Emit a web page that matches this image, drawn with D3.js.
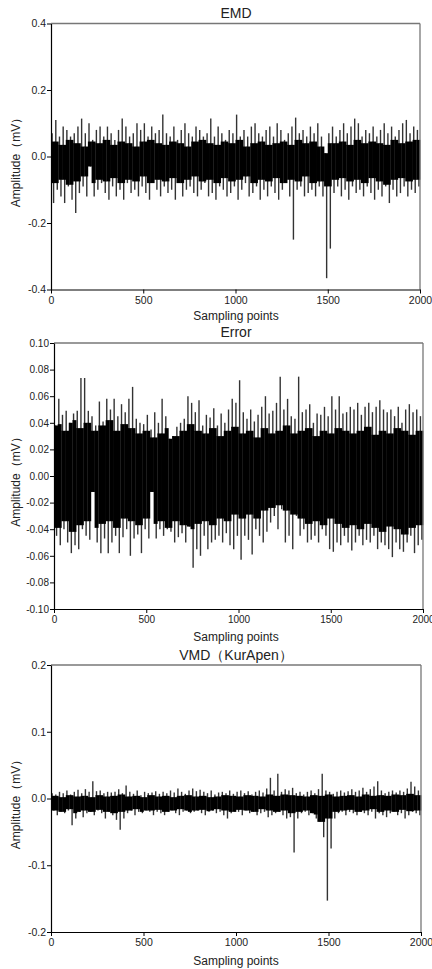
<!DOCTYPE html>
<html><head><meta charset="utf-8">
<script src="https://cdn.jsdelivr.net/npm/d3@7"></script>
<style>
body{margin:0;background:#fff}
svg{display:block}
text{font-family:Arial,"Liberation Sans",sans-serif;fill:#222}
</style>
</head><body>
<svg id="c" width="432" height="969"></svg>
<script>
// ---- data ----
// peaks/troughs: local max / min in each 20-sample bin
// coreHi/coreLo: edges of the dense black band in each 40-sample segment
const xTicks = [0, 500, 1000, 1500, 2000];
const emdTicks = [-0.4, -0.2, 0.0, 0.2, 0.4];
const errTicks = [-0.10, -0.08, -0.06, -0.04, -0.02, 0.00, 0.02, 0.04, 0.06, 0.08, 0.10];
const vmdTicks = [-0.2, -0.1, 0.0, 0.1, 0.2];
const titles = ["EMD", "Error", "VMD（KurApen）"];

const emdPeaks = [
 0.07,0.11,0.06,0.09,0.08,0.06,0.07,0.09,0.114,0.07,
 0.10,0.05,0.08,0.09,0.06,0.09,0.07,0.05,0.08,0.114,
 0.09,0.06,0.07,0.10,0.08,0.10,0.06,0.09,0.07,0.08,
 0.126,0.07,0.06,0.09,0.05,0.08,0.10,0.07,0.06,0.09,
 0.08,0.06,0.07,0.114,0.06,0.09,0.07,0.05,0.08,0.07,
 0.126,0.06,0.08,0.06,0.09,0.10,0.07,0.06,0.08,0.09,
 0.06,0.10,0.08,0.05,0.07,0.09,0.117,0.07,0.08,0.06,
 0.09,0.07,0.10,0.06,0.01,0.07,0.09,0.06,0.08,0.10,
 0.07,0.09,0.114,0.10,0.06,0.08,0.07,0.09,0.06,0.08,
 0.10,0.07,0.09,0.06,0.08,0.10,0.11,0.07,0.09,0.08];
const emdTroughs = [
 -0.14,-0.10,-0.12,-0.14,-0.09,-0.13,-0.17,-0.11,-0.09,-0.12,
 -0.03,-0.12,-0.10,-0.08,-0.11,-0.13,-0.09,-0.12,-0.10,-0.13,
 -0.08,-0.11,-0.10,-0.12,-0.09,-0.11,-0.13,-0.08,-0.10,-0.12,
 -0.09,-0.11,-0.10,-0.13,-0.08,-0.12,-0.10,-0.09,-0.11,-0.12,
 -0.10,-0.08,-0.12,-0.11,-0.13,-0.09,-0.10,-0.12,-0.11,-0.09,
 -0.13,-0.10,-0.08,-0.12,-0.11,-0.09,-0.13,-0.10,-0.12,-0.09,
 -0.11,-0.13,-0.10,-0.08,-0.12,-0.25,-0.10,-0.09,-0.12,-0.11,
 -0.10,-0.12,-0.09,-0.12,-0.366,-0.277,-0.11,-0.09,-0.12,-0.10,
 -0.13,-0.09,-0.11,-0.10,-0.12,-0.09,-0.11,-0.13,-0.10,-0.12,
 -0.09,-0.14,-0.10,-0.12,-0.11,-0.09,-0.12,-0.10,-0.11,-0.09];
const emdCoreHi = [
 0.045,0.035,0.050,0.040,0.030,0.045,0.040,0.050,0.035,0.045,
 0.040,0.030,0.045,0.050,0.040,0.035,0.045,0.040,0.030,0.045,
 0.050,0.040,0.035,0.045,0.040,0.050,0.030,0.040,0.045,0.035,
 0.040,0.045,0.035,0.050,0.040,0.045,0.030,0.040,0.040,0.045,
 0.035,0.050,0.040,0.045,0.040,0.035,0.050,0.040,0.045,0.050];
const emdCoreLo = [
 -0.080,-0.070,-0.085,-0.075,-0.060,-0.080,-0.070,-0.075,-0.065,-0.080,
 -0.070,-0.075,-0.060,-0.080,-0.070,-0.075,-0.065,-0.080,-0.070,-0.060,
 -0.075,-0.070,-0.080,-0.065,-0.075,-0.070,-0.060,-0.080,-0.070,-0.075,
 -0.065,-0.080,-0.070,-0.075,-0.060,-0.080,-0.075,-0.090,-0.070,-0.065,
 -0.075,-0.070,-0.080,-0.065,-0.075,-0.085,-0.070,-0.065,-0.075,-0.070];

const errPeaks = [
 0.038,0.058,0.046,0.049,0.040,0.047,0.049,0.0737,0.0737,0.049,
 0.045,0.038,0.056,0.041,0.058,0.050,0.058,0.045,0.054,0.048,
 0.058,0.067,0.043,0.040,0.039,0.046,0.035,0.048,0.040,0.058,
 0.045,0.028,0.030,0.037,0.040,0.043,0.060,0.055,0.048,0.057,
 0.038,0.046,0.044,0.051,0.038,0.047,0.040,0.050,0.058,0.055,
 0.072,0.048,0.043,0.050,0.041,0.046,0.052,0.060,0.047,0.049,
 0.055,0.0747,0.050,0.058,0.045,0.043,0.0747,0.048,0.050,0.054,
 0.040,0.047,0.046,0.052,0.045,0.060,0.050,0.060,0.047,0.048,
 0.052,0.050,0.055,0.046,0.052,0.055,0.048,0.052,0.057,0.050,
 0.048,0.050,0.045,0.052,0.040,0.050,0.054,0.048,0.050,0.045];
const errTroughs = [
 -0.045,-0.052,-0.040,-0.050,-0.058,-0.052,-0.055,-0.040,-0.045,-0.048,
 -0.012,-0.050,-0.058,-0.047,-0.058,-0.050,-0.045,-0.058,-0.046,-0.040,
 -0.060,-0.047,-0.044,-0.058,-0.040,-0.047,-0.012,-0.047,-0.040,-0.045,
 -0.040,-0.042,-0.050,-0.046,-0.043,-0.050,-0.038,-0.069,-0.055,-0.060,
 -0.045,-0.055,-0.050,-0.048,-0.045,-0.050,-0.043,-0.052,-0.055,-0.045,
 -0.063,-0.045,-0.048,-0.059,-0.040,-0.045,-0.050,-0.042,-0.035,-0.030,
 -0.040,-0.025,-0.050,-0.045,-0.055,-0.030,-0.045,-0.040,-0.050,-0.048,
 -0.045,-0.050,-0.040,-0.045,-0.055,-0.057,-0.050,-0.052,-0.045,-0.050,
 -0.056,-0.050,-0.045,-0.052,-0.048,-0.050,-0.045,-0.055,-0.050,-0.052,
 -0.055,-0.061,-0.050,-0.055,-0.057,-0.050,-0.045,-0.058,-0.052,-0.048];
const errCoreHi = [
 0.039,0.034,0.042,0.036,0.040,0.034,0.038,0.042,0.034,0.039,
 0.036,0.032,0.034,0.029,0.032,0.036,0.030,0.034,0.039,0.034,
 0.032,0.036,0.030,0.034,0.037,0.032,0.034,0.029,0.036,0.032,
 0.034,0.038,0.032,0.034,0.036,0.030,0.034,0.032,0.036,0.034,
 0.032,0.034,0.037,0.031,0.034,0.032,0.036,0.034,0.031,0.034];
const errCoreLo = [
 -0.039,-0.034,-0.042,-0.037,-0.034,-0.039,-0.036,-0.034,-0.039,-0.032,
 -0.034,-0.037,-0.032,-0.036,-0.034,-0.039,-0.034,-0.037,-0.040,-0.036,
 -0.034,-0.037,-0.032,-0.034,-0.029,-0.032,-0.029,-0.032,-0.026,-0.024,
 -0.022,-0.026,-0.029,-0.032,-0.036,-0.034,-0.037,-0.032,-0.036,-0.039,
 -0.037,-0.040,-0.036,-0.039,-0.042,-0.038,-0.040,-0.044,-0.039,-0.037];

const vmdPeaks = [
 0.008,0.006,0.010,0.008,0.012,0.006,0.010,0.013,0.008,0.014,
 0.010,0.026,0.011,0.012,0.008,0.010,0.009,0.010,0.014,0.008,
 0.0195,0.010,0.007,0.012,0.005,0.010,0.008,0.009,0.011,0.007,
 0.010,0.008,0.012,0.009,0.015,0.010,0.007,0.012,0.015,0.011,
 0.013,0.010,0.008,0.012,0.006,0.009,0.010,0.008,0.012,0.007,
 0.010,0.012,0.008,0.011,0.006,0.010,0.012,0.009,0.015,0.031,
 0.012,0.037,0.010,0.014,0.012,0.016,0.008,0.010,0.006,0.010,
 0.012,0.008,0.014,0.037,0.012,0.010,0.007,0.010,0.012,0.009,
 0.011,0.014,0.010,0.012,0.016,0.010,0.014,0.018,0.026,0.012,
 0.008,0.010,0.012,0.009,0.012,0.010,0.015,0.025,0.018,0.012];
const vmdTroughs = [
 -0.018,-0.025,-0.020,-0.022,-0.018,-0.040,-0.030,-0.020,-0.028,-0.022,
 -0.020,-0.025,-0.018,-0.022,-0.030,-0.020,-0.025,-0.032,-0.047,-0.030,
 -0.022,-0.018,-0.025,-0.020,-0.022,-0.018,-0.020,-0.025,-0.020,-0.022,
 -0.025,-0.020,-0.018,-0.022,-0.025,-0.020,-0.018,-0.022,-0.020,-0.018,
 -0.022,-0.025,-0.020,-0.018,-0.022,-0.020,-0.025,-0.030,-0.022,-0.020,
 -0.020,-0.025,-0.018,-0.022,-0.020,-0.025,-0.022,-0.020,-0.028,-0.025,
 -0.022,-0.020,-0.025,-0.030,-0.028,-0.081,-0.030,-0.022,-0.020,-0.025,
 -0.022,-0.030,-0.035,-0.058,-0.153,-0.075,-0.030,-0.022,-0.020,-0.025,
 -0.020,-0.022,-0.025,-0.020,-0.022,-0.025,-0.020,-0.030,-0.022,-0.025,
 -0.028,-0.022,-0.020,-0.025,-0.022,-0.030,-0.025,-0.020,-0.022,-0.025];
const vmdCoreHi = [
 0.004,0.002,0.005,0.003,0.004,0.002,0.005,0.003,0.004,0.006,
 0.003,0.004,0.002,0.005,0.003,0.004,0.002,0.004,0.005,0.003,
 0.004,0.002,0.003,0.005,0.004,0.003,0.005,0.004,0.003,0.006,
 0.004,0.006,0.005,0.004,0.003,0.005,0.004,0.006,0.003,0.004,
 0.005,0.003,0.006,0.004,0.005,0.004,0.006,0.005,0.007,0.005];
const vmdCoreLo = [
 -0.018,-0.020,-0.016,-0.022,-0.018,-0.020,-0.017,-0.020,-0.022,-0.020,
 -0.018,-0.016,-0.020,-0.018,-0.017,-0.020,-0.018,-0.016,-0.020,-0.018,
 -0.017,-0.019,-0.016,-0.018,-0.020,-0.017,-0.018,-0.020,-0.016,-0.018,
 -0.020,-0.018,-0.022,-0.020,-0.018,-0.024,-0.035,-0.030,-0.020,-0.018,
 -0.017,-0.020,-0.018,-0.016,-0.020,-0.018,-0.020,-0.017,-0.019,-0.018];

const binSize = 20;
const segSize = 40;
const nSamples = 2000;

// ---- layout ----
const hy = s => s.replace("−", "-");
const panels = [
  {title: titles[0], peaks: emdPeaks, troughs: emdTroughs, hi: emdCoreHi, lo: emdCoreLo, dom: [-0.4, 0.4], ticks: emdTicks,
   fmt: v => hy(d3.format(".1f")(v)), x0: 51, x1: 420, yT: 23.5, yB: 289.5, titleY: 13, xTitleY: 316, tickFs: 10.5},
  {title: titles[1], peaks: errPeaks, troughs: errTroughs, hi: errCoreHi, lo: errCoreLo, dom: [-0.10, 0.10], ticks: errTicks,
   fmt: v => hy(d3.format(".2f")(v)), x0: 54, x1: 423, yT: 343, yB: 609, titleY: 332, xTitleY: 637, tickFs: 10},
  {title: titles[2], peaks: vmdPeaks, troughs: vmdTroughs, hi: vmdCoreHi, lo: vmdCoreLo, dom: [-0.2, 0.2], ticks: vmdTicks,
   fmt: v => hy(d3.format(".1f")(v)), x0: 51, x1: 421, yT: 665, yB: 932, titleY: 655, xTitleY: 961, tickFs: 10.5}
];

const svg = d3.select("#c");

panels.forEach(p => {
  const x = d3.scaleLinear().domain([0, nSamples]).range([p.x0, p.x1]);
  const y = d3.scaleLinear().domain(p.dom).range([p.yB, p.yT]);
  const g = svg.append("g");

  const bins = p.peaks.map((v, j) => {
    const s = Math.floor(j * binSize / segSize);
    return {i: j * binSize, max: v, min: p.troughs[j],
            cHi: Math.min(v, p.hi[s]), cLo: Math.max(p.troughs[j], p.lo[s])};
  });

  // upward spikes (bin maximum) and downward spikes (bin minimum)
  g.append("g").selectAll("line").data(bins).join("line")
    .attr("x1", d => x(d.i + 6)).attr("x2", d => x(d.i + 6))
    .attr("y1", d => y(d.max)).attr("y2", d => y(d.cHi) + 1)
    .attr("stroke", "#333").attr("stroke-width", 1.4);
  g.append("g").selectAll("line").data(bins).join("line")
    .attr("x1", d => x(d.i + 14)).attr("x2", d => x(d.i + 14))
    .attr("y1", d => y(d.min)).attr("y2", d => y(d.cLo) - 1)
    .attr("stroke", "#333").attr("stroke-width", 1.4);

  // dense band
  g.append("g").selectAll("rect").data(bins).join("rect")
    .attr("x", d => x(d.i))
    .attr("width", d => x(d.i + binSize) - x(d.i) + 0.3)
    .attr("y", d => y(d.cHi))
    .attr("height", d => Math.max(0, y(d.cLo) - y(d.cHi)))
    .attr("fill", "#000");

  // frame (top/right grey)
  g.append("line").attr("x1", p.x0).attr("x2", p.x1).attr("y1", p.yT).attr("y2", p.yT)
    .attr("stroke", "#777").attr("stroke-width", 1.3);
  g.append("line").attr("x1", p.x1).attr("x2", p.x1).attr("y1", p.yT).attr("y2", p.yB)
    .attr("stroke", "#777").attr("stroke-width", 1.3);

  // axes
  const ya = g.append("g").attr("transform", `translate(${p.x0},0)`)
    .call(d3.axisLeft(y).tickValues(p.ticks).tickFormat(p.fmt).tickSize(4).tickSizeOuter(0));
  const xa = g.append("g").attr("transform", `translate(0,${p.yB})`)
    .call(d3.axisBottom(x).tickValues(xTicks).tickFormat(d3.format("d")).tickSize(4).tickSizeOuter(0));
  [ya, xa].forEach(a => {
    a.select(".domain").attr("stroke", "#000").attr("stroke-width", 1.2);
    a.selectAll(".tick line").attr("stroke", "#000");
    a.selectAll(".tick text").style("font-size", p.tickFs + "px").style("font-family", "Arial, 'Liberation Sans', sans-serif").attr("fill", "#222");
  });
  ya.selectAll(".tick text").attr("x", -5);
  xa.selectAll(".tick text").attr("y", 7);

  // titles
  g.append("text").attr("x", 236).attr("y", p.titleY).attr("text-anchor", "middle")
    .attr("dominant-baseline", "central").style("font-size", "14px").text(p.title);
  g.append("text").attr("x", 236).attr("y", p.xTitleY).attr("text-anchor", "middle")
    .attr("dominant-baseline", "central").style("font-size", "12px").text("Sampling points");
  g.append("text").attr("transform", `translate(16,${(p.yT + p.yB) / 2 + 3}) rotate(-90)`)
    .attr("text-anchor", "middle").attr("dominant-baseline", "central")
    .style("font-size", "12px").text("Amplitude（mV）");
});
</script>
</body></html>
